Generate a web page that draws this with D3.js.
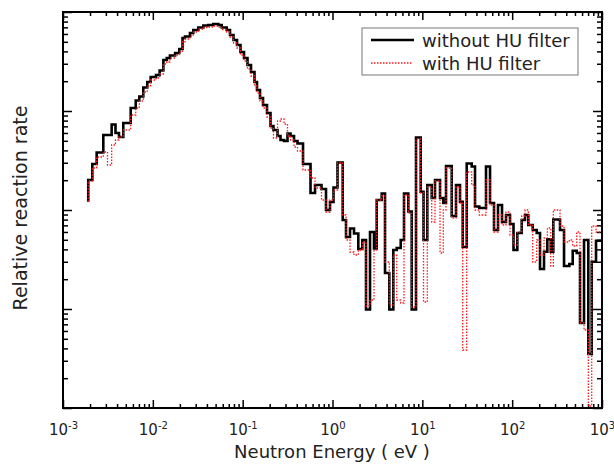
<!DOCTYPE html>
<html>
<head>
<meta charset="utf-8">
<script src="https://cdn.jsdelivr.net/npm/d3@7"></script>
<style>
  body { margin: 0; background: #fff; }
  svg { display: block; }
</style>
</head>
<body>
<svg id="chart" width="614" height="466"></svg>
<script>
// group boundaries (eV), shared by both histograms
const energyEdges = [
  1.91e-3, 2.12e-3, 2.37e-3, 2.81e-3, 3.13e-3, 3.48e-3, 3.84e-3, 4.20e-3, 4.69e-3, 5.67e-3,
  6.45e-3, 7.07e-3, 7.83e-3, 8.67e-3, 9.46e-3,
  0.01085, 0.0119, 0.0131, 0.0143, 0.0155, 0.0177, 0.0197, 0.0214, 0.0228, 0.0259, 0.0282,
  0.0321, 0.0365, 0.0415, 0.0471, 0.0536, 0.0584, 0.0664, 0.0723, 0.0791, 0.0865, 0.0946,
  0.1035, 0.1132, 0.1238, 0.1354, 0.1444, 0.156, 0.1685, 0.1866, 0.2041, 0.2204, 0.2443,
  0.2638, 0.2885, 0.3156, 0.3409, 0.373, 0.4079, 0.4697, 0.5693, 0.639, 0.7544, 0.8468,
  0.938, 1.026, 1.137, 1.299, 1.414, 1.567, 1.736, 1.938, 2.148, 2.361, 2.616, 2.898,
  3.105, 3.53, 3.842, 4.289, 4.754, 5.186, 5.747, 6.252, 6.982, 7.616, 8.505, 9.59,
  10.31, 11.36, 12.72, 13.84, 15.74, 17.12, 18.35, 21.24, 23.71, 26.27, 28.16, 31.19,
  35.46, 38.59, 43.07, 51.16, 56.69, 62.8, 69.59, 77.09, 85.42, 94.63,
  103.5, 114.1, 127.7, 139, 151.3, 169.4, 187.6, 204.2, 226.2, 246.3, 268.7, 287.2,
  340.9, 377.9, 432.7, 472.1, 523.2, 569.4, 630.7, 704.3, 768.2, 857.9, 1000
];

// first entry = starting level, then one value per group (ending at the same index edge)
const rateWithout = [
  0.1213,
  0.2009, 0.2915, 0.381, 0.5723, 0.5723, 0.731, 0.600, 0.546, 0.757, 1.072,
  1.277, 1.401, 1.727, 1.963, 2.205, 2.310, 2.565, 3.275, 3.431, 3.636,
  3.854, 4.229, 5.463, 5.656, 6.137, 6.580, 6.974, 7.306, 7.391, 7.565,
  7.391, 6.974, 6.580, 5.857, 5.214, 4.642, 3.944, 3.431, 2.915, 2.477,
  1.963, 1.630, 1.353, 1.150, 0.9546, 0.7056, 0.6429, 0.5591, 0.5094, 0.4977,
  0.5926, 0.5591, 0.4977, 0.4696, 0.2915, 0.1485, 0.1789, 0.1630, 0.1, 0.1204,
  0.1688, 0.3019, 0.07925, 0.05337, 0.06504, 0.0579, 0.04037, 0.04977, 0.009886, 0.05995,
  0.04084, 0.1262, 0.1468, 0.0231, 0.009886, 0.03944, 0.04132, 0.04977, 0.1468, 0.09658,
  0.009886, 0.54, 0.153, 0.04977, 0.1789, 0.1322, 0.2009, 0.1322, 0.1177, 0.2783,
  0.08698, 0.1789, 0.1213, 0.04229, 0.2949, 0.275, 0.1085, 0.1048, 0.275, 0.1177,
  0.06281, 0.1123, 0.07565, 0.08903, 0.07222, 0.03944, 0.05857, 0.07925, 0.08903, 0.07056,
  0.06281, 0.05857, 0.02535, 0.03791, 0.05059, 0.03791, 0.08018, 0.06281, 0.02719, 0.02848,
  0.0388, 0.03678, 0.007222, 0.04977, 0.003511, 0.03004, 0.04897
];

const rateWith = [
  0.1213,
  0.1963, 0.2656, 0.3431, 0.3854, 0.2848, 0.4535, 0.5094, 0.546, 0.6429, 0.9112,
  1.072, 1.262, 1.556, 1.789, 2.056, 2.154, 2.364, 2.984, 3.126, 3.431,
  3.678, 3.944, 4.977, 5.337, 5.723, 6.281, 6.735, 6.974, 7.056, 7.222,
  7.056, 6.657, 6.281, 5.591, 4.863, 4.329, 3.678, 3.199, 2.656, 2.257,
  1.789, 1.520, 1.262, 1.072, 0.8698, 0.6735, 0.5337, 0.7925, 0.8302, 0.7391,
  0.5591, 0.5094, 0.4329, 0.3944, 0.2535, 0.2105, 0.1668, 0.1262, 0.09546, 0.1262,
  0.1592, 0.2984, 0.08903, 0.04977, 0.03765, 0.03511, 0.03944, 0.04751, 0.01072, 0.01233,
  0.03944, 0.1262, 0.1385, 0.02984, 0.01098, 0.03511, 0.01233, 0.0115, 0.1417, 0.09326,
  0.01048, 0.5214, 0.1485, 0.01177, 0.1707, 0.07565, 0.1963, 0.03678, 0.1, 0.2656,
  0.08302, 0.1707, 0.1177, 0.003854, 0.242, 0.1789, 0.1, 0.08903, 0.2009, 0.1123,
  0.05995, 0.08903, 0.07056, 0.09546, 0.05591, 0.04431, 0.05995, 0.08698, 0.1, 0.07056,
  0.02984, 0.04977, 0.03511, 0.05214, 0.0658, 0.02719, 0.1, 0.06893, 0.04751, 0.04977,
  0.04329, 0.05995, 0.007222, 0.006137, 0.001048, 0.06893, 0.05995
];

const seriesNames = ["without HU filter", "with HU filter"];
const xTickExponents = ["-3", "-2", "-1", "0", "1", "2", "3"];
const xTitle = "Neutron Energy ( eV )";
const yTitle = "Relative reaction rate";

const FONT = "'DejaVu Sans', sans-serif";
const plot = { left: 63, right: 602, top: 12, bottom: 408 };

const svg = d3.select("#chart");

const x = d3.scaleLog().domain([1e-3, 1e3]).range([plot.left, plot.right]);
const y = d3.scaleLog().domain([1e-3, 10]).range([plot.bottom, plot.top]);

const isDecade = (d) => Math.abs(Math.log10(d) - Math.round(Math.log10(d))) < 1e-9;
const xAll = x.ticks();
const xMajor = xAll.filter(isDecade);
const xMinor = xAll.filter((d) => !isDecade(d));
const yAll = y.ticks();
const yMajor = yAll.filter(isDecade);
const yMinor = yAll.filter((d) => !isDecade(d));

function tickAxis(gen, values, size, tx, ty) {
  const g = svg
    .append("g")
    .attr("transform", `translate(${tx},${ty})`)
    .call(gen.tickValues(values).tickSizeInner(-size).tickSizeOuter(0).tickFormat(""));
  g.select(".domain").remove();
  g.selectAll(".tick line").attr("stroke", "#000").attr("stroke-width", 1.5);
  return g;
}

// minor + major ticks on all four sides, pointing inward
tickAxis(d3.axisBottom(x), xMinor, 4, 0, plot.bottom);
tickAxis(d3.axisTop(x), xMinor, 4, 0, plot.top);
tickAxis(d3.axisLeft(y), yMinor, 5, plot.left, 0);
tickAxis(d3.axisRight(y), yMinor, 5, plot.right, 0);
tickAxis(d3.axisTop(x), xMajor, 8, 0, plot.top);
tickAxis(d3.axisLeft(y), yMajor, 9, plot.left, 0);
tickAxis(d3.axisRight(y), yMajor, 9, plot.right, 0);

const xMajAxis = svg
  .append("g")
  .attr("transform", `translate(0,${plot.bottom})`)
  .call(
    d3.axisBottom(x).tickValues(xMajor).tickSizeInner(-8).tickSizeOuter(0).tickPadding(16)
  );
xMajAxis.select(".domain").remove();
xMajAxis.selectAll(".tick line").attr("stroke", "#000").attr("stroke-width", 1.5);
xMajAxis
  .selectAll(".tick text")
  .attr("fill", "#222")
  .style("font-family", FONT)
  .style("font-size", "15px")
  .text(null)
  .each(function (d, i) {
    const t = d3.select(this);
    t.append("tspan").text("10");
    t.append("tspan").attr("dy", "-0.55em").style("font-size", "10px").text(xTickExponents[i]);
  });

// histogram lines
svg
  .append("clipPath")
  .attr("id", "clip")
  .append("rect")
  .attr("x", plot.left)
  .attr("y", plot.top)
  .attr("width", plot.right - plot.left)
  .attr("height", plot.bottom - plot.top + 1);

const stepLine = (vals) =>
  d3
    .line()
    .x((d, i) => x(energyEdges[i]))
    .y((d) => y(d))
    .curve(d3.curveStepBefore)(vals);

const lines = svg.append("g").attr("clip-path", "url(#clip)");
lines
  .append("path")
  .attr("d", stepLine(rateWithout))
  .attr("fill", "none")
  .attr("stroke", "#000")
  .attr("stroke-width", 2.6)
  .attr("stroke-linejoin", "miter");
lines
  .append("path")
  .attr("d", stepLine(rateWith))
  .attr("fill", "none")
  .attr("stroke", "#ff1a1a")
  .attr("stroke-width", 1.3)
  .attr("stroke-dasharray", "1.5,1.5");

// frame
svg
  .append("rect")
  .attr("x", plot.left)
  .attr("y", plot.top)
  .attr("width", plot.right - plot.left)
  .attr("height", plot.bottom - plot.top)
  .attr("fill", "none")
  .attr("stroke", "#000")
  .attr("stroke-width", 2);

// legend
const leg = svg.append("g");
leg
  .append("rect")
  .attr("x", 362)
  .attr("y", 28)
  .attr("width", 216)
  .attr("height", 47)
  .attr("fill", "#fff")
  .attr("stroke", "#777")
  .attr("stroke-width", 1);
leg.append("line").attr("x1", 371).attr("x2", 414).attr("y1", 40).attr("y2", 40)
  .attr("stroke", "#000").attr("stroke-width", 2.6);
leg.append("line").attr("x1", 371).attr("x2", 413).attr("y1", 63).attr("y2", 63)
  .attr("stroke", "#ff1a1a").attr("stroke-width", 1.3).attr("stroke-dasharray", "1.5,1.5");
seriesNames.forEach((name, i) => {
  leg
    .append("text")
    .attr("x", 422)
    .attr("y", 47 + i * 23)
    .attr("fill", "#222")
    .style("font-family", FONT)
    .style("font-size", "18px")
    .text(name);
});

// axis titles
svg
  .append("text")
  .attr("x", 332)
  .attr("y", 458)
  .attr("text-anchor", "middle")
  .attr("fill", "#222")
  .style("font-family", FONT)
  .style("font-size", "18px")
  .text(xTitle);
svg
  .append("text")
  .attr("transform", "translate(27,208) rotate(-90)")
  .attr("text-anchor", "middle")
  .attr("fill", "#222")
  .style("font-family", FONT)
  .style("font-size", "19px")
  .text(yTitle);
</script>
</body>
</html>
